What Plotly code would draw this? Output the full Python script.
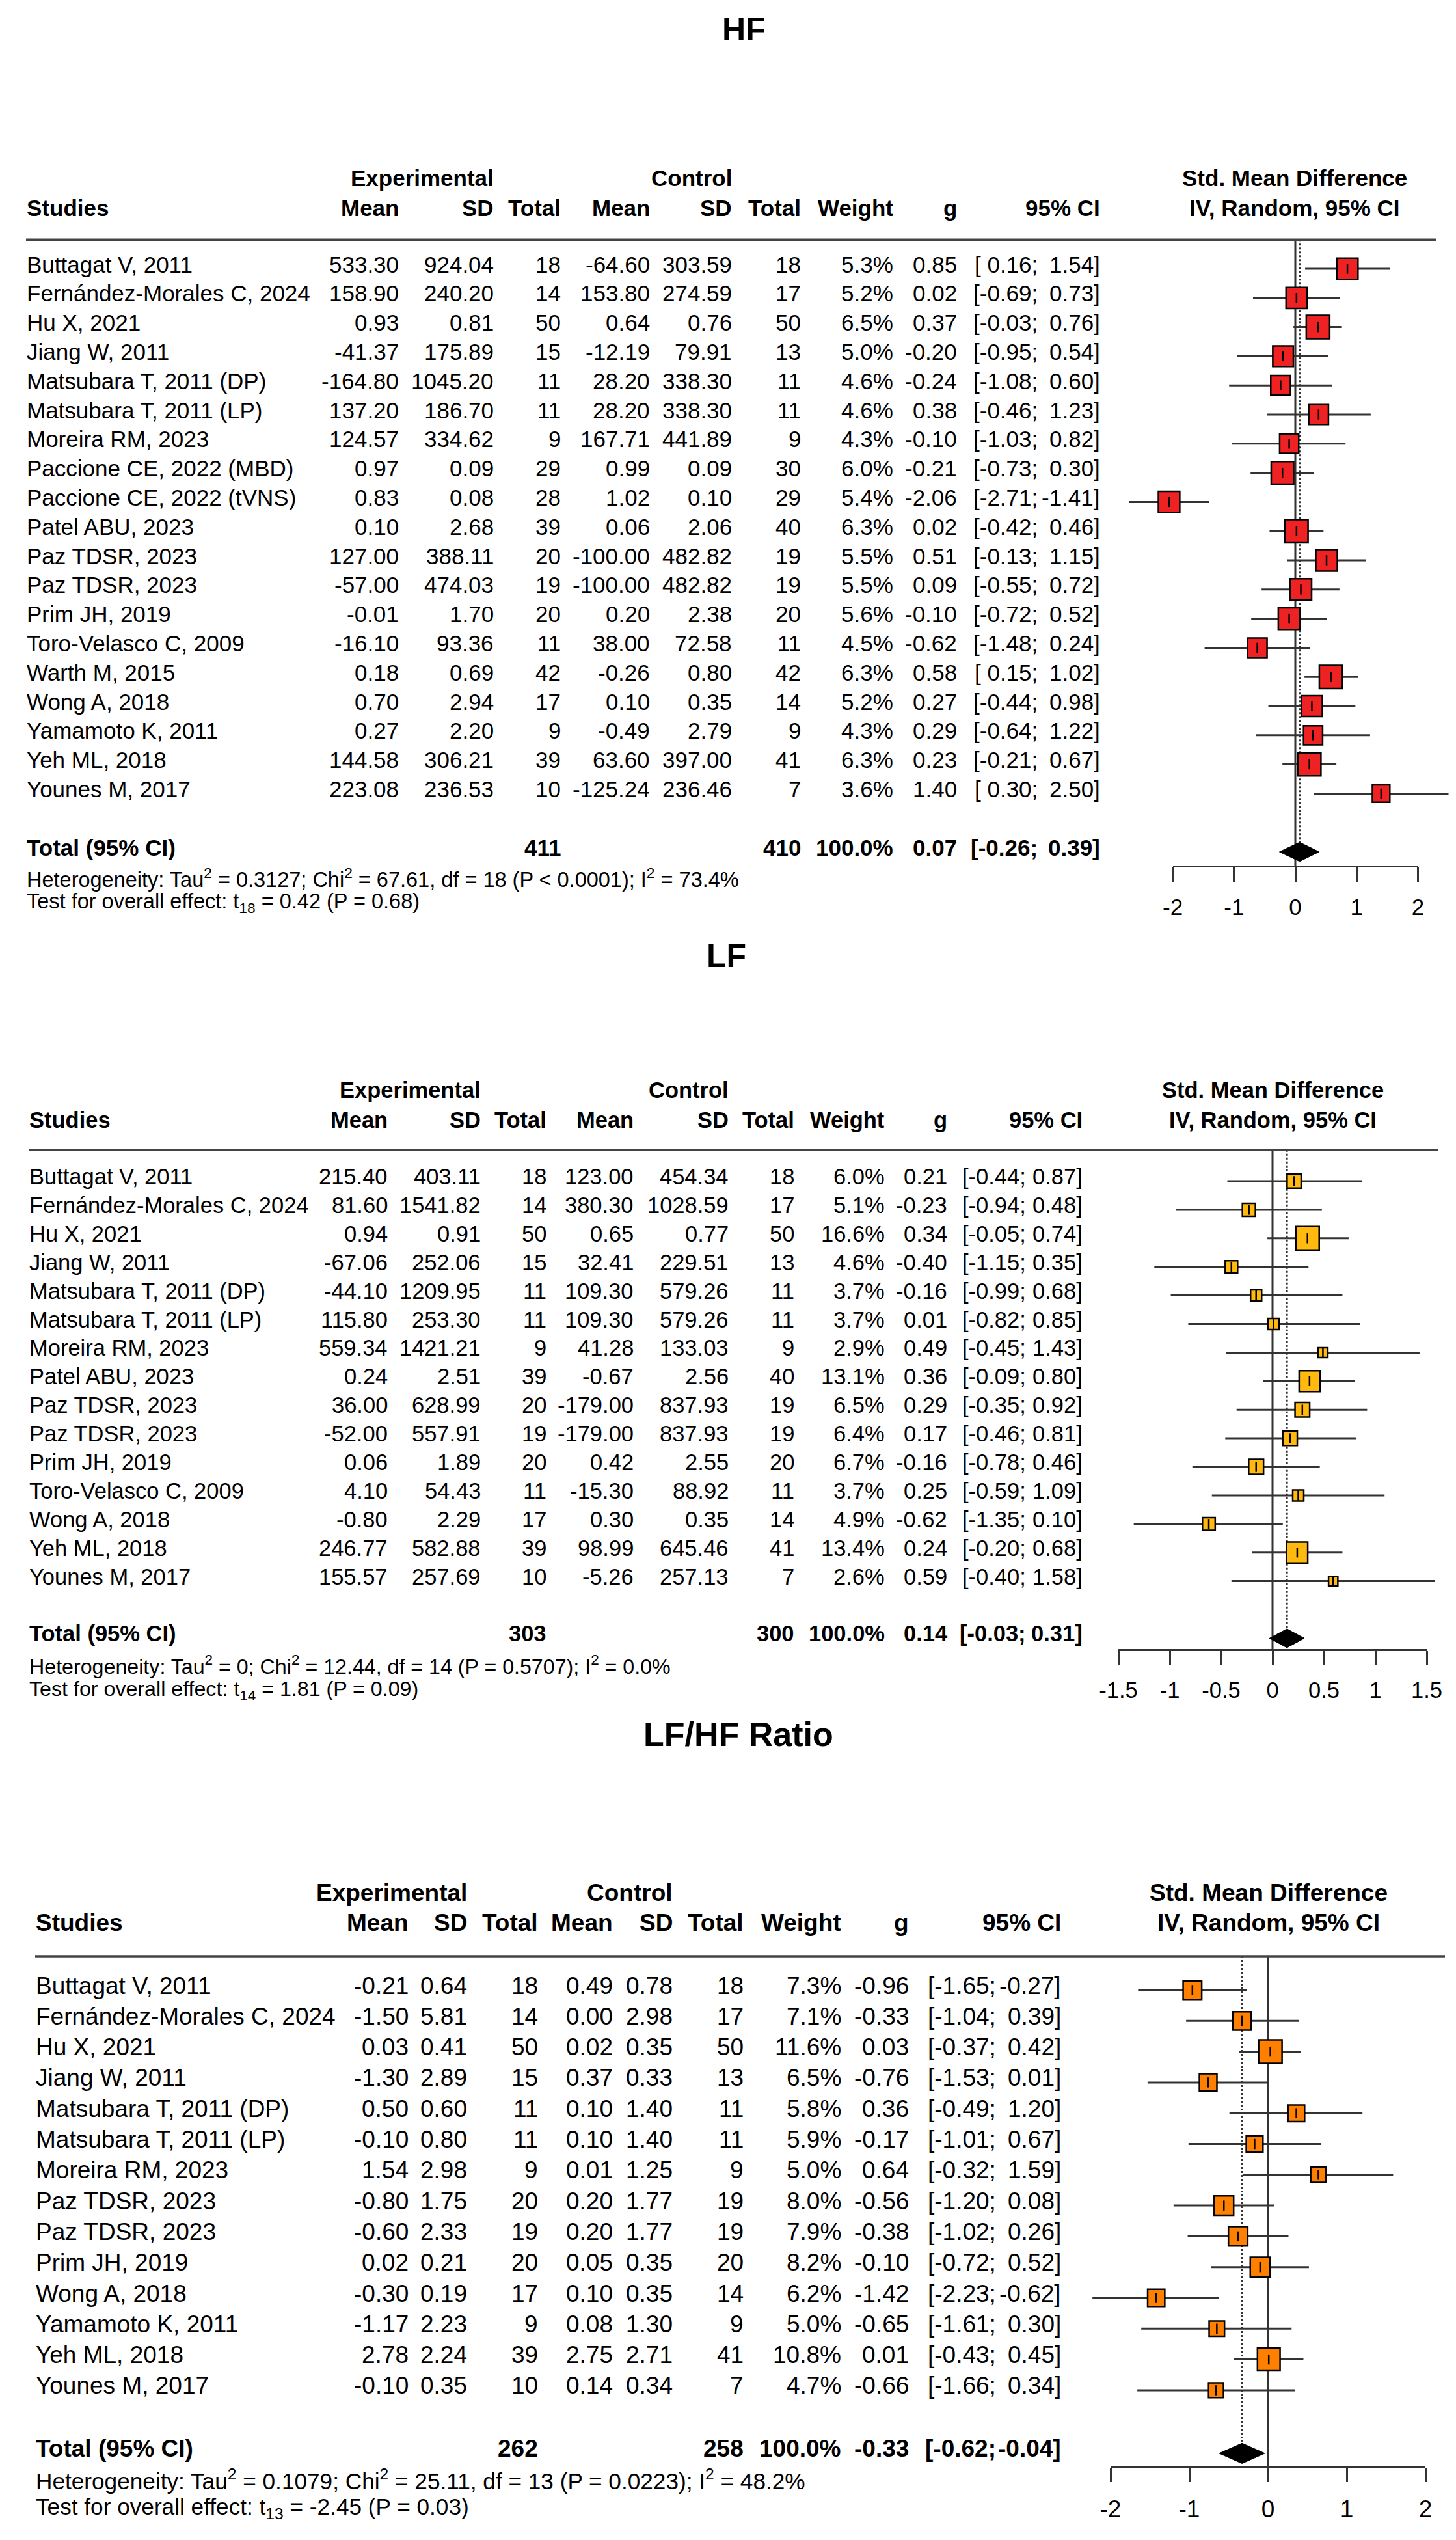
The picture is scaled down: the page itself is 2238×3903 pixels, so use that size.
import math
import plotly.graph_objects as go

W, H = 2238, 3903
FONT = "Liberation Sans"

# ---------------- HF data ----------------
hf_studies = ["Buttagat V, 2011", "Fernández-Morales C, 2024", "Hu X, 2021", "Jiang W, 2011",
              "Matsubara T, 2011 (DP)", "Matsubara T, 2011 (LP)", "Moreira RM, 2023",
              "Paccione CE, 2022 (MBD)", "Paccione CE, 2022 (tVNS)", "Patel ABU, 2023",
              "Paz TDSR, 2023", "Paz TDSR, 2023", "Prim JH, 2019", "Toro-Velasco C, 2009",
              "Warth M, 2015", "Wong A, 2018", "Yamamoto K, 2011", "Yeh ML, 2018", "Younes M, 2017"]
hf_exp_mean = [533.30, 158.90, 0.93, -41.37, -164.80, 137.20, 124.57, 0.97, 0.83, 0.10,
               127.00, -57.00, -0.01, -16.10, 0.18, 0.70, 0.27, 144.58, 223.08]
hf_exp_sd = [924.04, 240.20, 0.81, 175.89, 1045.20, 186.70, 334.62, 0.09, 0.08, 2.68,
             388.11, 474.03, 1.70, 93.36, 0.69, 2.94, 2.20, 306.21, 236.53]
hf_exp_n = [18, 14, 50, 15, 11, 11, 9, 29, 28, 39, 20, 19, 20, 11, 42, 17, 9, 39, 10]
hf_ctl_mean = [-64.60, 153.80, 0.64, -12.19, 28.20, 28.20, 167.71, 0.99, 1.02, 0.06,
               -100.00, -100.00, 0.20, 38.00, -0.26, 0.10, -0.49, 63.60, -125.24]
hf_ctl_sd = [303.59, 274.59, 0.76, 79.91, 338.30, 338.30, 441.89, 0.09, 0.10, 2.06,
             482.82, 482.82, 2.38, 72.58, 0.80, 0.35, 2.79, 397.00, 236.46]
hf_ctl_n = [18, 17, 50, 13, 11, 11, 9, 30, 29, 40, 19, 19, 20, 11, 42, 14, 9, 41, 7]
hf_weight = [5.3, 5.2, 6.5, 5.0, 4.6, 4.6, 4.3, 6.0, 5.4, 6.3, 5.5, 5.5, 5.6, 4.5, 6.3, 5.2, 4.3, 6.3, 3.6]
hf_g = [0.85, 0.02, 0.37, -0.20, -0.24, 0.38, -0.10, -0.21, -2.06, 0.02,
        0.51, 0.09, -0.10, -0.62, 0.58, 0.27, 0.29, 0.23, 1.40]
hf_lo = [0.16, -0.69, -0.03, -0.95, -1.08, -0.46, -1.03, -0.73, -2.71, -0.42,
         -0.13, -0.55, -0.72, -1.48, 0.15, -0.44, -0.64, -0.21, 0.30]
hf_hi = [1.54, 0.73, 0.76, 0.54, 0.60, 1.23, 0.82, 0.30, -1.41, 0.46,
         1.15, 0.72, 0.52, 0.24, 1.02, 0.98, 1.22, 0.67, 2.50]
hf_total = dict(exp_n=411, ctl_n=410, g=0.07, lo=-0.26, hi=0.39)
hf_het = "Heterogeneity: Tau<sup>2</sup> = 0.3127; Chi<sup>2</sup> = 67.61, df = 18 (P &lt; 0.0001); I<sup>2</sup> = 73.4%"
hf_test = "Test for overall effect: t<sub>18</sub> = 0.42 (P = 0.68)"
hf_ticks = [-2, -1, 0, 1, 2]
hf_ticklabels = ["-2", "-1", "0", "1", "2"]

# ---------------- LF data ----------------
lf_studies = ["Buttagat V, 2011", "Fernández-Morales C, 2024", "Hu X, 2021", "Jiang W, 2011",
              "Matsubara T, 2011 (DP)", "Matsubara T, 2011 (LP)", "Moreira RM, 2023",
              "Patel ABU, 2023", "Paz TDSR, 2023", "Paz TDSR, 2023", "Prim JH, 2019",
              "Toro-Velasco C, 2009", "Wong A, 2018", "Yeh ML, 2018", "Younes M, 2017"]
lf_exp_mean = [215.40, 81.60, 0.94, -67.06, -44.10, 115.80, 559.34, 0.24, 36.00, -52.00,
               0.06, 4.10, -0.80, 246.77, 155.57]
lf_exp_sd = [403.11, 1541.82, 0.91, 252.06, 1209.95, 253.30, 1421.21, 2.51, 628.99, 557.91,
             1.89, 54.43, 2.29, 582.88, 257.69]
lf_exp_n = [18, 14, 50, 15, 11, 11, 9, 39, 20, 19, 20, 11, 17, 39, 10]
lf_ctl_mean = [123.00, 380.30, 0.65, 32.41, 109.30, 109.30, 41.28, -0.67, -179.00, -179.00,
               0.42, -15.30, 0.30, 98.99, -5.26]
lf_ctl_sd = [454.34, 1028.59, 0.77, 229.51, 579.26, 579.26, 133.03, 2.56, 837.93, 837.93,
             2.55, 88.92, 0.35, 645.46, 257.13]
lf_ctl_n = [18, 17, 50, 13, 11, 11, 9, 40, 19, 19, 20, 11, 14, 41, 7]
lf_weight = [6.0, 5.1, 16.6, 4.6, 3.7, 3.7, 2.9, 13.1, 6.5, 6.4, 6.7, 3.7, 4.9, 13.4, 2.6]
lf_g = [0.21, -0.23, 0.34, -0.40, -0.16, 0.01, 0.49, 0.36, 0.29, 0.17, -0.16, 0.25, -0.62, 0.24, 0.59]
lf_lo = [-0.44, -0.94, -0.05, -1.15, -0.99, -0.82, -0.45, -0.09, -0.35, -0.46, -0.78, -0.59, -1.35, -0.20, -0.40]
lf_hi = [0.87, 0.48, 0.74, 0.35, 0.68, 0.85, 1.43, 0.80, 0.92, 0.81, 0.46, 1.09, 0.10, 0.68, 1.58]
lf_total = dict(exp_n=303, ctl_n=300, g=0.14, lo=-0.03, hi=0.31)
lf_het = "Heterogeneity: Tau<sup>2</sup> = 0; Chi<sup>2</sup> = 12.44, df = 14 (P = 0.5707); I<sup>2</sup> = 0.0%"
lf_test = "Test for overall effect: t<sub>14</sub> = 1.81 (P = 0.09)"
lf_ticks = [-1.5, -1, -0.5, 0, 0.5, 1, 1.5]
lf_ticklabels = ["-1.5", "-1", "-0.5", "0", "0.5", "1", "1.5"]

# ---------------- LF/HF data ----------------
rt_studies = ["Buttagat V, 2011", "Fernández-Morales C, 2024", "Hu X, 2021", "Jiang W, 2011",
              "Matsubara T, 2011 (DP)", "Matsubara T, 2011 (LP)", "Moreira RM, 2023",
              "Paz TDSR, 2023", "Paz TDSR, 2023", "Prim JH, 2019", "Wong A, 2018",
              "Yamamoto K, 2011", "Yeh ML, 2018", "Younes M, 2017"]
rt_exp_mean = [-0.21, -1.50, 0.03, -1.30, 0.50, -0.10, 1.54, -0.80, -0.60, 0.02, -0.30, -1.17, 2.78, -0.10]
rt_exp_sd = [0.64, 5.81, 0.41, 2.89, 0.60, 0.80, 2.98, 1.75, 2.33, 0.21, 0.19, 2.23, 2.24, 0.35]
rt_exp_n = [18, 14, 50, 15, 11, 11, 9, 20, 19, 20, 17, 9, 39, 10]
rt_ctl_mean = [0.49, 0.00, 0.02, 0.37, 0.10, 0.10, 0.01, 0.20, 0.20, 0.05, 0.10, 0.08, 2.75, 0.14]
rt_ctl_sd = [0.78, 2.98, 0.35, 0.33, 1.40, 1.40, 1.25, 1.77, 1.77, 0.35, 0.35, 1.30, 2.71, 0.34]
rt_ctl_n = [18, 17, 50, 13, 11, 11, 9, 19, 19, 20, 14, 9, 41, 7]
rt_weight = [7.3, 7.1, 11.6, 6.5, 5.8, 5.9, 5.0, 8.0, 7.9, 8.2, 6.2, 5.0, 10.8, 4.7]
rt_g = [-0.96, -0.33, 0.03, -0.76, 0.36, -0.17, 0.64, -0.56, -0.38, -0.10, -1.42, -0.65, 0.01, -0.66]
rt_lo = [-1.65, -1.04, -0.37, -1.53, -0.49, -1.01, -0.32, -1.20, -1.02, -0.72, -2.23, -1.61, -0.43, -1.66]
rt_hi = [-0.27, 0.39, 0.42, 0.01, 1.20, 0.67, 1.59, 0.08, 0.26, 0.52, -0.62, 0.30, 0.45, 0.34]
rt_total = dict(exp_n=262, ctl_n=258, g=-0.33, lo=-0.62, hi=-0.04)
rt_het = "Heterogeneity: Tau<sup>2</sup> = 0.1079; Chi<sup>2</sup> = 25.11, df = 13 (P = 0.0223); I<sup>2</sup> = 48.2%"
rt_test = "Test for overall effect: t<sub>13</sub> = -2.45 (P = 0.03)"
rt_ticks = [-2, -1, 0, 1, 2]
rt_ticklabels = ["-2", "-1", "0", "1", "2"]

# ---------------- panel layout (positions in px / row units) ----------------
panels = [
    dict(title="HF", data=(hf_studies, hf_exp_mean, hf_exp_sd, hf_exp_n, hf_ctl_mean, hf_ctl_sd,
                           hf_ctl_n, hf_weight, hf_g, hf_lo, hf_hi),
         total=hf_total, het=hf_het, test=hf_test, ticks=hf_ticks, ticklabels=hf_ticklabels,
         color="#EE2222",
         y0=405, sp=44.8, x0=1983, u=94.2, fs=35, fs_het=32.5, fs_title=50,
         title_x=1135, title_row=-7.99, hdr1=-2.95, hdr2=-1.92, sep=-1.0, tot_row=20.0,
         axis_row=20.49, het_row=21.02, test_row=21.88,
         cols=dict(name=32, exp_mean=606, exp_sd=752, exp_n=855, ctl_mean=992, ctl_sd=1118,
                   ctl_n=1224, weight=1366, g=1464, ci_semi=1588, ci_r=1684,
                   smd=1982, sep_r=2200)),
    dict(title="LF", data=(lf_studies, lf_exp_mean, lf_exp_sd, lf_exp_n, lf_ctl_mean, lf_ctl_sd,
                           lf_ctl_n, lf_weight, lf_g, lf_lo, lf_hi),
         total=lf_total, het=lf_het, test=lf_test, ticks=lf_ticks, ticklabels=lf_ticklabels,
         color="#FFB90F",
         y0=1807, sp=43.9, x0=1948, u=158, fs=34.5, fs_het=32.2, fs_title=50,
         title_x=1108, title_row=-7.65, hdr1=-3.03, hdr2=-1.98, sep=-1.1, tot_row=16.0,
         axis_row=16.4, het_row=17.08, test_row=17.97,
         cols=dict(name=36, exp_mean=589, exp_sd=732, exp_n=833, ctl_mean=967, ctl_sd=1113,
                   ctl_n=1214, weight=1353, g=1449, ci_semi=1570, ci_r=1657,
                   smd=1948, sep_r=2203)),
    dict(title="LF/HF Ratio", data=(rt_studies, rt_exp_mean, rt_exp_sd, rt_exp_n, rt_ctl_mean,
                                    rt_ctl_sd, rt_ctl_n, rt_weight, rt_g, rt_lo, rt_hi),
         total=rt_total, het=rt_het, test=rt_test, ticks=rt_ticks, ticklabels=rt_ticklabels,
         color="#FF7F00",
         y0=3050, sp=47.3, x0=1941, u=121, fs=37, fs_het=35.2, fs_title=52,
         title_x=1127, title_row=-8.1, hdr1=-3.02, hdr2=-2.03, sep=-1.1, tot_row=15.05,
         axis_row=15.48, het_row=16.05, test_row=16.98,
         cols=dict(name=46, exp_mean=621, exp_sd=711, exp_n=820, ctl_mean=935, ctl_sd=1027,
                   ctl_n=1136, weight=1286, g=1390, ci_semi=1524, ci_r=1624,
                   smd=1942, sep_r=2213)),
]

LINE = "#333333"
fig = go.Figure()
annotations = []
shapes = []
layout_axes = {}


def txt(xpx, row, text, yref, size, anchor="right", bold=False):
    annotations.append(dict(
        x=xpx / W, xref="paper", y=row, yref=yref, text=("<b>%s</b>" % text) if bold else text,
        xanchor=anchor, yanchor="middle", showarrow=False, borderpad=0, yshift=round(0.2 * size),
        font=dict(family=FONT, size=size, color="black")))


def ci_left(v):
    return ("[%.2f;" % v) if v < 0 else ("[ %.2f;" % v)


for k, p in enumerate(panels):
    studies, em, esd, en, cm, csd, cn, wt, g, lo, hi = p["data"]
    c = p["cols"]
    n = len(studies)
    idx = list(range(n))
    ysfx = "" if k == 0 else str(k + 1)
    yref = "y" + ysfx
    xm = "x" + ysfx
    xt = "x" + str(k + 4)
    fs = p["fs"]

    # axes: rows map to pixels, effect values map to pixels
    layout_axes["yaxis" + ysfx] = dict(domain=[0, 1], range=[(H - p["y0"]) / p["sp"], -p["y0"] / p["sp"]],
                                       visible=False, fixedrange=True, automargin=False)
    layout_axes["xaxis" + ysfx] = dict(domain=[0, 1], range=[-p["x0"] / p["u"], (W - p["x0"]) / p["u"]],
                                       visible=False, fixedrange=True, automargin=False)
    tmin, tmax = min(p["ticks"]), max(p["ticks"])
    axis_py = p["y0"] + p["axis_row"] * p["sp"]
    layout_axes["xaxis" + str(k + 4)] = dict(
        domain=[(p["x0"] + tmin * p["u"]) / W, (p["x0"] + tmax * p["u"]) / W],
        range=[tmin, tmax], anchor="free", position=1 - axis_py / H,
        showline=True, linecolor=LINE, linewidth=3, ticks="outside", ticklen=22, tickwidth=3,
        tickcolor=LINE, tickvals=p["ticks"], ticktext=p["ticklabels"],
        tickfont=dict(family=FONT, size=fs, color="black"), ticklabelstandoff=9,
        showgrid=False, zeroline=False, fixedrange=True, automargin=False)
    fig.add_trace(go.Scatter(x=[tmin, tmax], y=[p["axis_row"]] * 2, xaxis=xt, yaxis=yref,
                             mode="markers", marker=dict(opacity=0, size=1), hoverinfo="skip"))

    # reference line at zero and dotted line at pooled estimate
    tot = p["total"]
    dh = 0.33
    fig.add_trace(go.Scatter(x=[0, 0], y=[p["sep"], p["axis_row"]], xaxis=xm, yaxis=yref,
                             mode="lines", line=dict(color=LINE, width=3), hoverinfo="skip"))
    fig.add_trace(go.Scatter(x=[tot["g"], tot["g"]], y=[p["sep"], p["tot_row"] - dh], xaxis=xm, yaxis=yref,
                             mode="lines", line=dict(color=LINE, width=3, dash="dot"), hoverinfo="skip"))

    # confidence intervals
    cx, cy = [], []
    for i in idx:
        cx += [lo[i], hi[i], None]
        cy += [i, i, None]
    fig.add_trace(go.Scatter(x=cx, y=cy, xaxis=xm, yaxis=yref, mode="lines",
                             line=dict(color=LINE, width=3), hoverinfo="skip"))
    # squares, area proportional to weight
    wmax = max(wt)
    sizes = [36 * math.sqrt(w / wmax) for w in wt]
    fig.add_trace(go.Scatter(x=g, y=idx, xaxis=xm, yaxis=yref, mode="markers",
                             marker=dict(symbol="square", size=sizes, color=p["color"], opacity=1,
                                         line=dict(color="black", width=2.5)), hoverinfo="skip"))
    fig.add_trace(go.Scatter(x=g, y=idx, xaxis=xm, yaxis=yref, mode="markers",
                             marker=dict(symbol="line-ns", size=11, opacity=1,
                                         line=dict(color="black", width=2.5)),
                             hoverinfo="skip"))
    # pooled diamond
    T = p["tot_row"]
    fig.add_trace(go.Scatter(x=[tot["lo"], tot["g"], tot["hi"], tot["g"], tot["lo"]],
                             y=[T, T - dh, T, T + dh, T], xaxis=xm, yaxis=yref, mode="lines",
                             fill="toself", fillcolor="black", line=dict(color="black", width=1),
                             hoverinfo="skip"))

    # title
    txt(p["title_x"], p["title_row"], p["title"], yref, p["fs_title"], anchor="center", bold=True)
    # header
    txt(c["exp_sd"], p["hdr1"], "Experimental", yref, fs, bold=True)
    txt(c["ctl_sd"], p["hdr1"], "Control", yref, fs, bold=True)
    txt(c["smd"], p["hdr1"], "Std. Mean Difference", yref, fs, anchor="center", bold=True)
    txt(c["name"], p["hdr2"], "Studies", yref, fs, anchor="left", bold=True)
    for key, lab in [("exp_mean", "Mean"), ("exp_sd", "SD"), ("exp_n", "Total"), ("ctl_mean", "Mean"),
                     ("ctl_sd", "SD"), ("ctl_n", "Total"), ("weight", "Weight"), ("g", "g"),
                     ("ci_r", "95% CI")]:
        txt(c[key], p["hdr2"], lab, yref, fs, bold=True)
    txt(c["smd"], p["hdr2"], "IV, Random, 95% CI", yref, fs, anchor="center", bold=True)
    shapes.append(dict(type="line", xref="paper", yref=yref, x0=c["name"] / W, x1=c["sep_r"] / W,
                       y0=p["sep"], y1=p["sep"], line=dict(color="#444444", width=3.5)))

    # study rows
    for i in idx:
        txt(c["name"], i, studies[i], yref, fs, anchor="left")
        txt(c["exp_mean"], i, "%.2f" % em[i], yref, fs)
        txt(c["exp_sd"], i, "%.2f" % esd[i], yref, fs)
        txt(c["exp_n"], i, "%d" % en[i], yref, fs)
        txt(c["ctl_mean"], i, "%.2f" % cm[i], yref, fs)
        txt(c["ctl_sd"], i, "%.2f" % csd[i], yref, fs)
        txt(c["ctl_n"], i, "%d" % cn[i], yref, fs)
        txt(c["weight"], i, "%.1f%%" % wt[i], yref, fs)
        txt(c["g"], i, "%.2f" % g[i], yref, fs)
        txt(c["ci_semi"], i, ci_left(lo[i]), yref, fs)
        txt(c["ci_r"], i, "%.2f]" % hi[i], yref, fs)

    # total row
    txt(c["name"], T, "Total (95% CI)", yref, fs, anchor="left", bold=True)
    txt(c["exp_n"], T, "%d" % tot["exp_n"], yref, fs, bold=True)
    txt(c["ctl_n"], T, "%d" % tot["ctl_n"], yref, fs, bold=True)
    txt(c["weight"], T, "100.0%", yref, fs, bold=True)
    txt(c["g"], T, "%.2f" % tot["g"], yref, fs, bold=True)
    txt(c["ci_semi"], T, ci_left(tot["lo"]), yref, fs, bold=True)
    txt(c["ci_r"], T, "%.2f]" % tot["hi"], yref, fs, bold=True)
    txt(c["name"], p["het_row"], p["het"], yref, p["fs_het"], anchor="left")
    txt(c["name"], p["test_row"], p["test"], yref, p["fs_het"], anchor="left")

fig.update_layout(template="none", width=W, height=H, margin=dict(l=0, r=0, t=0, b=0, pad=0),
                  autosize=False, showlegend=False,
                  paper_bgcolor="white", plot_bgcolor="rgba(0,0,0,0)", annotations=annotations,
                  shapes=shapes, **layout_axes)
fig.write_html("out.html")
